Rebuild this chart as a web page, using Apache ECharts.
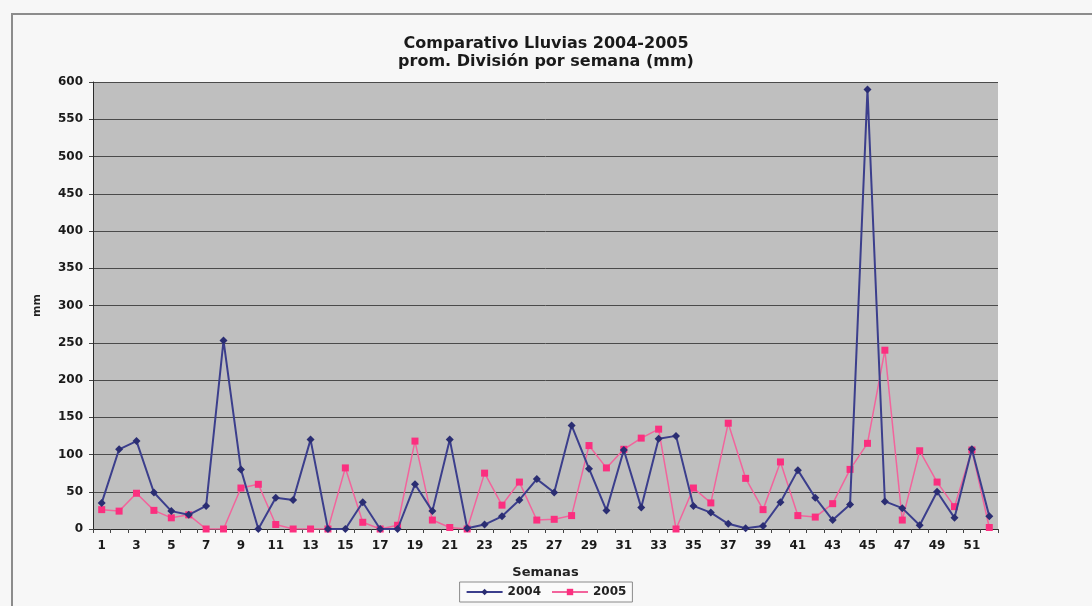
<!DOCTYPE html>
<html>
<head>
<meta charset="utf-8">
<title>Comparativo Lluvias 2004-2005</title>
<script src="https://cdn.jsdelivr.net/npm/echarts@6/dist/echarts.min.js"></script>
<style>
  html, body { margin: 0; padding: 0; background: #f7f7f7; }
  #chart { width: 1092px; height: 606px; }
</style>
</head>
<body>
<div id="chart"></div>
<script>
// Weekly average rainfall per division (mm), weeks 1-52
const weeks = Array.from({ length: 52 }, (_, i) => String(i + 1));

const lluvias2004 = [
  35, 107, 118, 49, 24, 19, 31, 253, 80, 0,
  42, 39, 120, 0, 0, 36, 0, 0, 60, 24,
  120, 1, 6, 17, 39, 67, 49, 139, 81, 25,
  106, 29, 121, 125, 31, 22, 7, 1, 4, 36,
  79, 42, 12, 33, 590, 37, 28, 5, 50, 15,
  107, 17
];

const lluvias2005 = [
  26, 24, 48, 25, 15, 19, 0, 0, 55, 60,
  6, 0, 0, 0, 82, 9, 0, 5, 118, 12,
  2, 0, 75, 32, 63, 12, 13, 18, 112, 82,
  107, 122, 134, 0, 55, 35, 142, 68, 26, 90,
  18, 16, 34, 80, 115, 240, 12, 105, 63, 30,
  106, 2
];

const seriesNames = ['2004', '2005'];
const titleLines = ['Comparativo Lluvias 2004-2005', 'prom. División por semana (mm)'];

const FONT = 'DejaVu Sans';
const chart = echarts.init(document.getElementById('chart'), null, { renderer: 'canvas' });

chart.setOption({
  backgroundColor: '#f7f7f7',
  animation: false,
  graphic: [{
    type: 'rect',
    silent: true,
    shape: { x: 12, y: 14, width: 1100, height: 600 },
    style: { fill: 'none', stroke: '#8c8c8c', lineWidth: 2 }
  }],
  title: {
    text: titleLines.join('\n'),
    left: 'center',
    top: 35,
    padding: 0,
    textStyle: {
      fontFamily: FONT, fontWeight: 'bold', fontSize: 16,
      lineHeight: 18, color: '#1a1a1a'
    }
  },
  legend: {
    data: seriesNames,
    left: 'center',
    top: 582,
    padding: [4, 6],
    itemWidth: 36,
    itemHeight: 8,
    itemGap: 10,
    borderColor: '#8a8a8a',
    borderWidth: 1,
    backgroundColor: '#fafafa',
    textStyle: { fontFamily: FONT, fontWeight: 'bold', fontSize: 12, color: '#222' }
  },
  grid: {
    left: 93, right: 94, top: 82, bottom: 77,
    show: true, backgroundColor: '#bfbfbf', borderWidth: 0
  },
  xAxis: {
    type: 'category',
    data: weeks,
    boundaryGap: true,
    name: 'Semanas',
    nameLocation: 'middle',
    nameGap: 37,
    nameTextStyle: { fontFamily: FONT, fontWeight: 'bold', fontSize: 13, color: '#222' },
    axisLine: { lineStyle: { color: '#2a2a2a', width: 1 } },
    axisTick: { show: true, interval: 0, length: 4, lineStyle: { color: '#444' } },
    axisLabel: {
      interval: 1, margin: 11,
      fontFamily: FONT, fontWeight: 'bold', fontSize: 12, color: '#1a1a1a'
    },
    splitLine: { show: false }
  },
  yAxis: {
    type: 'value',
    min: 0, max: 600, interval: 50,
    name: 'mm',
    nameLocation: 'middle',
    nameGap: 50,
    nameTextStyle: { fontFamily: FONT, fontWeight: 'bold', fontSize: 11, color: '#222' },
    axisLine: { show: true, lineStyle: { color: '#2a2a2a', width: 1 } },
    axisTick: { show: true, length: 4, lineStyle: { color: '#444' } },
    axisLabel: { margin: 10, fontFamily: FONT, fontWeight: 'bold', fontSize: 12, color: '#1a1a1a' },
    splitLine: { show: true, lineStyle: { color: '#4a4a4a', width: 1 } }
  },
  series: [
    {
      name: seriesNames[0],
      type: 'line',
      data: lluvias2004,
      symbol: 'diamond',
      symbolSize: 8,
      lineStyle: { color: '#3b3e8c', width: 2 },
      itemStyle: { color: '#2a2d72' },
      z: 3
    },
    {
      name: seriesNames[1],
      type: 'line',
      data: lluvias2005,
      symbol: 'rect',
      symbolSize: 7,
      lineStyle: { color: '#f2649c', width: 1.5 },
      itemStyle: { color: '#fb2f7f' },
      z: 2
    }
  ]
});
</script>
</body>
</html>
